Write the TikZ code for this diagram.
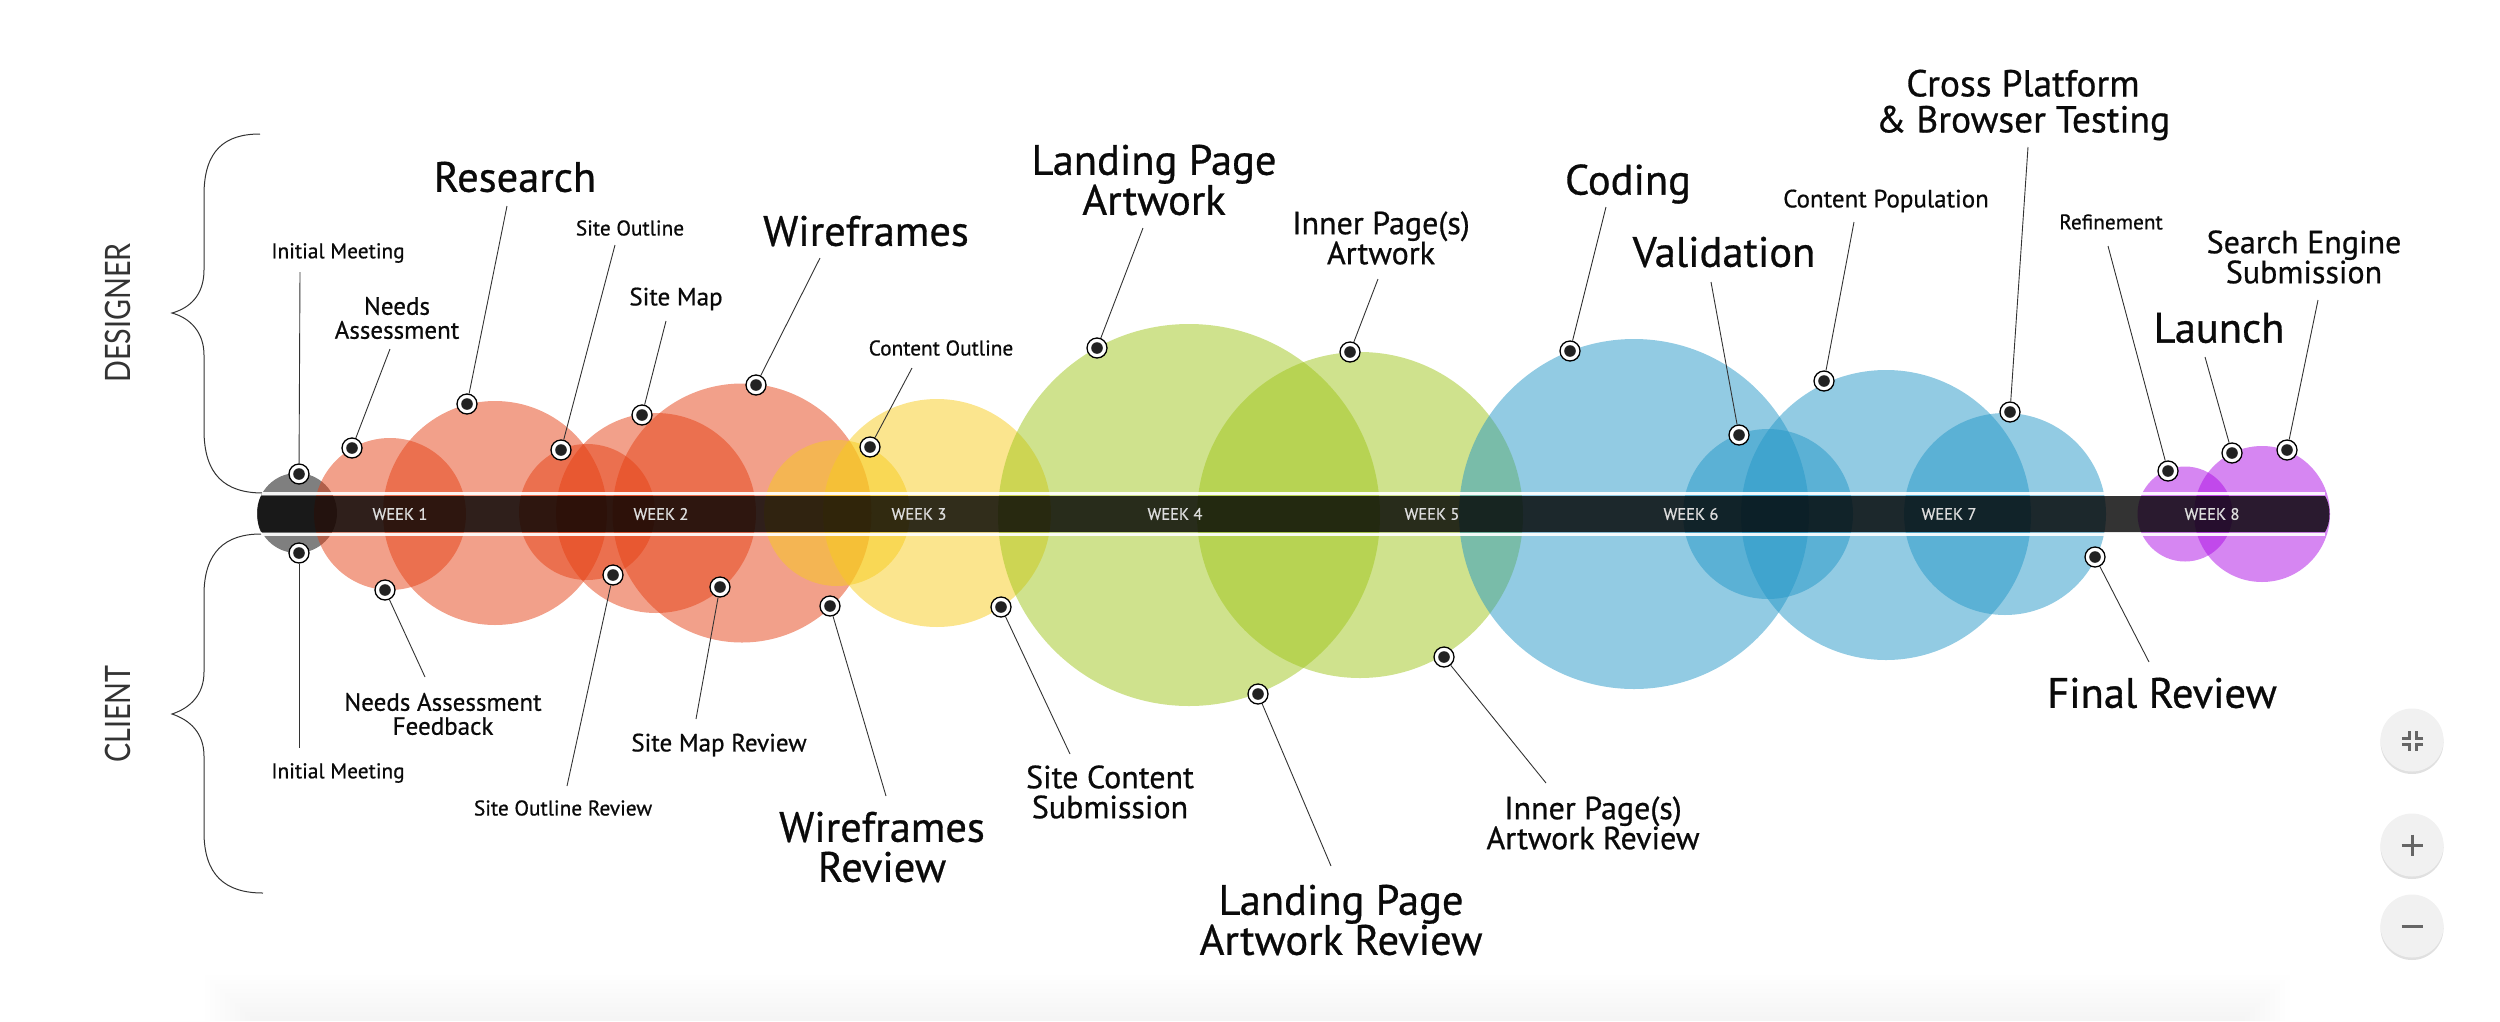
\documentclass[tikz,border=0pt]{standalone}
\usepackage{fontspec}
\setmainfont[FakeBold=0.7]{PT Sans}
\newfontfamily\rolefont[FakeStretch=0.82]{Lato}
\usepackage{xcolor}
\usepackage{tikz}
\usetikzlibrary{shadows}
\definecolor{ink}{HTML}{0A0A0A}
\definecolor{wire}{HTML}{333333}
\definecolor{bandDark}{HTML}{333333}
\definecolor{weekText}{HTML}{DDDDDD}
\definecolor{dotDark}{HTML}{222222}
\definecolor{orangeBase}{HTML}{E54115}
\definecolor{yellowBase}{HTML}{F7CB1D}
\definecolor{greenBase}{HTML}{9FC51B}
\definecolor{blueBase}{HTML}{2597C7}
\definecolor{purpleBase}{HTML}{AD0DE5}
\definecolor{btnFill}{HTML}{F1F1F1}
\definecolor{btnIcon}{HTML}{666666}
\tikzset{
  bubble/.style={circle, inner sep=0pt, fill opacity=0.5},
  marker/.style={circle, draw=black, fill=white, line width=1.3pt, minimum size=20pt, inner sep=0pt,
    path picture={\fill[dotDark] (path picture bounding box.center) circle (5.8pt);}},
  wireline/.style={line width=0.9pt, color=wire},
  bracket/.style={line width=1.0pt, color=wire},
  whiterule/.style={line width=3.2pt, color=white, opacity=0.92},
  week/.style={text=weekText, font=\fontsize{16.5}{16}\selectfont},
  role/.style={text=wire, rotate=90, font=\rolefont\fontsize{35}{35}\selectfont},
  lbltiny/.style={text=ink, align=center, font=\fontsize{21.3}{24}\selectfont},
  lblsmall/.style={text=ink, align=center, font=\fontsize{25}{24}\selectfont},
  lblmid/.style={text=ink, align=center, font=\fontsize{32}{30}\selectfont},
  lblbig/.style={text=ink, align=center, font=\fontsize{42.5}{40}\selectfont},
  lblcross/.style={text=ink, align=center, font=\fontsize{37.5}{36}\selectfont},
  btn/.style={circle, fill=btnFill, minimum size=63pt, inner sep=0pt,
    drop shadow={shadow xshift=0pt, shadow yshift=-2.5pt, opacity=0.3, fill=black!40}},
  btnglyph/.style={line width=3pt, color=btnIcon}
}

\begin{document}
\begin{tikzpicture}[x=1pt,y=-1pt]
  \useasboundingbox (0,0) rectangle (2500,1021);
  % faint shade along the bottom edge
  \foreach \i in {0,...,9}
    \fill[black, opacity=0.004] (205+5*\i,975+4.6*\i) rectangle (2290-5*\i,1021);

  % brackets
  \draw[bracket] (260,134) .. controls (225,134) and (204,150) .. (204,195) -- (204,270) .. controls (204,295) and (190,308) .. (172,313) .. controls (190,318) and (204,332) .. (204,355) -- (204,430) .. controls (204,475) and (225,493) .. (263,493);
  \draw[bracket] (261,534) .. controls (225,534) and (204,552) .. (204,595) -- (204,672) .. controls (204,695) and (190,708) .. (172,714) .. controls (190,720) and (204,733) .. (204,756) -- (204,832) .. controls (204,875) and (225,893) .. (263,893);
  \node[role] (designer) at (118,313) {DESIGNER};
  \node[role] (client) at (118,714) {CLIENT};

  % bubbles
  \node[bubble, fill=black, minimum size=80pt] (bStart) at (297,513) {};
  \node[bubble, fill=orangeBase, minimum size=152pt] (bNeeds) at (390,514) {};
  \node[bubble, fill=orangeBase, minimum size=224pt] (bResearch) at (495,513) {};
  \node[bubble, fill=orangeBase, minimum size=136pt] (bOutline) at (587,512) {};
  \node[bubble, fill=orangeBase, minimum size=200pt] (bMap) at (656,513) {};
  \node[bubble, fill=orangeBase, minimum size=259pt] (bWire) at (742,513) {};
  \node[bubble, fill=yellowBase, minimum size=146pt] (bContent) at (837,513) {};
  \node[bubble, fill=yellowBase, minimum size=228pt] (bSubmit) at (937,513) {};
  \node[bubble, fill=greenBase, minimum size=382pt] (bLanding) at (1189,515) {};
  \node[bubble, fill=greenBase, minimum size=326pt] (bInner) at (1360,515) {};
  \node[bubble, fill=blueBase, minimum size=350pt] (bCoding) at (1634,514) {};
  \node[bubble, fill=blueBase, minimum size=170pt] (bValid) at (1768,514) {};
  \node[bubble, fill=blueBase, minimum size=290pt] (bPop) at (1886,515) {};
  \node[bubble, fill=blueBase, minimum size=202pt] (bCross) at (2005,514) {};
  \node[bubble, fill=purpleBase, minimum size=95pt] (bRefine) at (2185,514) {};
  \node[bubble, fill=purpleBase, minimum size=136pt] (bLaunch) at (2262,514) {};

  % timeline band
  \draw[whiterule] (262,493.5) -- (2325,493.5);
  \draw[whiterule] (262,534.5) -- (2325,534.5);
  \fill[bandDark, blend mode=multiply] (261,496) -- (2325,496) .. controls (2331,505) and (2331,523) .. (2325,532) -- (261,532) .. controls (256,523) and (256,505) .. (261,496) -- cycle;
  \node[week] (w1) at (400,514) {WEEK 1};
  \node[week] (w2) at (661,514) {WEEK 2};
  \node[week] (w3) at (919,514) {WEEK 3};
  \node[week] (w4) at (1175,514) {WEEK 4};
  \node[week] (w5) at (1432,514) {WEEK 5};
  \node[week] (w6) at (1691,514) {WEEK 6};
  \node[week] (w7) at (1949,514) {WEEK 7};
  \node[week] (w8) at (2212,514) {WEEK 8};

  % markers above the band
  \node[marker] (mMeetTop) at (299,474) {};
  \node[marker] (mNeeds) at (352,448) {};
  \node[marker] (mResearch) at (467,404) {};
  \node[marker] (mOutline) at (561,450) {};
  \node[marker] (mMap) at (642,415) {};
  \node[marker] (mWire) at (756,385) {};
  \node[marker] (mContent) at (870,447) {};
  \node[marker] (mLanding) at (1097,348) {};
  \node[marker] (mInner) at (1350,352) {};
  \node[marker] (mCoding) at (1570,351) {};
  \node[marker] (mValid) at (1739,435) {};
  \node[marker] (mPop) at (1824,381) {};
  \node[marker] (mCross) at (2010,412) {};
  \node[marker] (mRefine) at (2168,471) {};
  \node[marker] (mLaunch) at (2232,453) {};
  \node[marker] (mSearch) at (2287,450) {};
  % markers below the band
  \node[marker] (mMeetLow) at (299,553) {};
  \node[marker] (mNeedsRev) at (385,590) {};
  \node[marker] (mOutlineRev) at (613,575) {};
  \node[marker] (mMapRev) at (720,587) {};
  \node[marker] (mWireRev) at (830,606) {};
  \node[marker] (mSubmit) at (1001,607) {};
  \node[marker] (mLandingRev) at (1258,694) {};
  \node[marker] (mInnerRev) at (1444,657) {};
  \node[marker] (mFinal) at (2095,557) {};

  % free ends of the wires
  \coordinate (eMeetTop) at (300,272);
  \coordinate (eNeeds) at (390,349);
  \coordinate (eResearch) at (507,206);
  \coordinate (eOutline) at (615,245);
  \coordinate (eMap) at (666,321);
  \coordinate (eWire) at (820,258);
  \coordinate (eContent) at (912,368);
  \coordinate (eLanding) at (1143,228);
  \coordinate (eInner) at (1378,279);
  \coordinate (eCoding) at (1606,207);
  \coordinate (eValid) at (1711,282);
  \coordinate (ePop) at (1854,222);
  \coordinate (eCross) at (2028,147);
  \coordinate (eRefine) at (2108,246);
  \coordinate (eLaunch) at (2205,357);
  \coordinate (eSearch) at (2318,300);
  \coordinate (eMeetLow) at (299,748);
  \coordinate (eNeedsRev) at (425,677);
  \coordinate (eOutlineRev) at (567,786);
  \coordinate (eMapRev) at (696,719);
  \coordinate (eWireRev) at (886,796);
  \coordinate (eSubmit) at (1070,754);
  \coordinate (eLandingRev) at (1331,866);
  \coordinate (eInnerRev) at (1546,783);
  \coordinate (eFinal) at (2149,662);

  \draw[wireline] (mMeetTop) -- (eMeetTop);
  \draw[wireline] (mNeeds) -- (eNeeds);
  \draw[wireline] (mResearch) -- (eResearch);
  \draw[wireline] (mOutline) -- (eOutline);
  \draw[wireline] (mMap) -- (eMap);
  \draw[wireline] (mWire) -- (eWire);
  \draw[wireline] (mContent) -- (eContent);
  \draw[wireline] (mLanding) -- (eLanding);
  \draw[wireline] (mInner) -- (eInner);
  \draw[wireline] (mCoding) -- (eCoding);
  \draw[wireline] (mValid) -- (eValid);
  \draw[wireline] (mPop) -- (ePop);
  \draw[wireline] (mCross) -- (eCross);
  \draw[wireline] (mRefine) -- (eRefine);
  \draw[wireline] (mLaunch) -- (eLaunch);
  \draw[wireline] (mSearch) -- (eSearch);
  \draw[wireline] (mMeetLow) -- (eMeetLow);
  \draw[wireline] (mNeedsRev) -- (eNeedsRev);
  \draw[wireline] (mOutlineRev) -- (eOutlineRev);
  \draw[wireline] (mMapRev) -- (eMapRev);
  \draw[wireline] (mWireRev) -- (eWireRev);
  \draw[wireline] (mSubmit) -- (eSubmit);
  \draw[wireline] (mLandingRev) -- (eLandingRev);
  \draw[wireline] (mInnerRev) -- (eInnerRev);
  \draw[wireline] (mFinal) -- (eFinal);

  % labels
  \node[lbltiny] (tMeetTop) at (338,253) {Initial Meeting};
  \node[lblsmall] (tNeeds) at (397,318) {Needs\\Assessment};
  \node[lblbig] (tResearch) at (515,177) {Research};
  \node[lbltiny] (tOutline) at (630,228) {Site Outline};
  \node[lblsmall] (tMap) at (676,299) {Site Map};
  \node[lblbig] (tWire) at (866,231) {Wireframes};
  \node[lbltiny] (tContent) at (941,348) {Content Outline};
  \node[lblbig] (tLanding) at (1154,180) {Landing Page\\Artwork};
  \node[lblmid] (tInner) at (1381,238) {Inner Page(s)\\Artwork};
  \node[lblbig] (tCoding) at (1628,184) {Coding};
  \node[lblbig] (tValid) at (1724,252) {Validation};
  \node[lblsmall] (tPop) at (1886,201) {Content Population};
  \node[lblcross] (tCross) at (2023,105) {Cross Platform\\\& Browser Testing};
  \node[lbltiny] (tRefine) at (2111,222) {Refinement};
  \node[lblbig] (tLaunch) at (2219,328) {Launch};
  \node[lblmid] (tSearch) at (2304,257) {Search Engine\\Submission};
  \node[lblsmall] (tMeetNeeds) at (443,714) {Needs Assessment\\Feedback};
  \node[lbltiny] (tMeetLow) at (338,773) {Initial Meeting};
  \node[lblsmall] (tMapRev) at (719,745) {Site Map Review};
  \node[lbltiny] (tOutlineRev) at (563,808) {Site Outline Review};
  \node[lblbig] (tWireRev) at (882,847) {Wireframes\\Review};
  \node[lblmid] (tSubmit) at (1110,792) {Site Content\\Submission};
  \node[lblbig] (tLandingRev) at (1341,920) {Landing Page\\Artwork Review};
  \node[lblmid] (tInnerRev) at (1593,823) {Inner Page(s)\\Artwork Review};
  \node[lblbig] (tFinal) at (2162,693) {Final Review};

  % zoom buttons
  \node[btn] (bShrink) at (2412,740) {};
  \node[btn] (bPlus) at (2412,845) {};
  \node[btn] (bMinus) at (2412,926) {};
  \draw[btnglyph] (2402,738) -- (2409,738) -- (2409,731);
  \draw[btnglyph] (2423,738) -- (2416,738) -- (2416,731);
  \draw[btnglyph] (2402,744) -- (2409,744) -- (2409,751);
  \draw[btnglyph] (2423,744) -- (2416,744) -- (2416,751);
  \draw[btnglyph] (2401.5,845) -- (2422.5,845);
  \draw[btnglyph] (2412,834.5) -- (2412,855.5);
  \draw[btnglyph] (2401.5,926) -- (2422.5,926);
\end{tikzpicture}
\end{document}
